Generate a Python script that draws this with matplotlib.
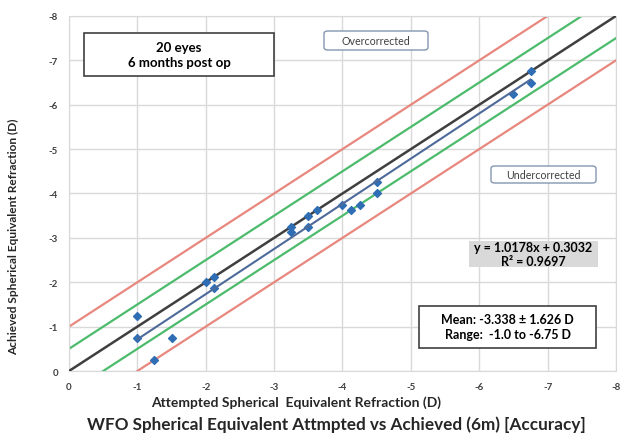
import numpy as np
import matplotlib
matplotlib.use('Agg')
import matplotlib.pyplot as plt
from matplotlib.patches import Rectangle, FancyBboxPatch

plt.rcParams['font.family'] = ['Lato', 'DejaVu Sans']
plt.rcParams['axes.unicode_minus'] = False

# 데이터 (attempted vs achieved, D)
attempted = [-1.0, -1.0, -1.5, -1.25, -2.0, -2.125, -2.125,
             -3.25, -3.25, -3.5, -3.625, -3.5, -4.0, -4.125, -4.25, -4.5, -4.5,
             -6.75, -6.75, -6.5]
achieved = [-1.25, -0.75, -0.75, -0.25, -2.0, -2.125, -1.875,
            -3.25, -3.125, -3.5, -3.625, -3.25, -3.75, -3.625, -3.75, -4.25, -4.0,
            -6.75, -6.5, -6.25]
ticks = [0, -1, -2, -3, -4, -5, -6, -7, -8]
slope, intercept = 1.0178, 0.3032
offsets_green = [0.5, -0.5]
offsets_red = [1.0, -1.0]

W, H = 620, 435
fig = plt.figure(figsize=(6.2, 4.35), dpi=100)
ax = fig.add_axes([0.1113, 0.1448, 0.8822, 0.8162])

ax.set_xlim(0, -8)
ax.set_ylim(0, -8)
ax.set_xticks(ticks)
ax.set_yticks(ticks)
ax.set_xticklabels([str(t) for t in ticks])
ax.set_yticklabels([str(t) for t in ticks])
ax.tick_params(length=0, labelsize=7, colors='#404040', pad=8)
for lab in ax.get_xticklabels() + ax.get_yticklabels():
    lab.set_fontweight('bold')
ax.grid(True, color='#d9d9d9', lw=1)
for s in ax.spines.values():
    s.set_color('#d9d9d9')

# 기준선
xx = np.array([0, -8])
ax.plot(xx, xx, color='#3f3f3f', lw=1.8, zorder=3)
for d in offsets_green:
    ax.plot(xx, xx - d, color='#4cbb6c', lw=1.6, zorder=2)
for d in offsets_red:
    ax.plot(xx, xx - d, color='#e8877d', lw=1.6, zorder=2)

# 산점도 + 추세선
ax.scatter(attempted, achieved, marker='D', s=16, color='#2f6eb5', zorder=4)
tx = np.array([max(attempted), min(attempted)])
ax.plot(tx, slope * tx + intercept, color='#4d6a9a', lw=1.5, zorder=5)


# 픽셀 좌표로 박스 그리기
def box(x0, y0, x1, y1, text, fc='white', ec='#404040', lw=1.2, rounded=False, **kw):
    fx, fy = x0 / W, 1 - y1 / H
    fw, fh = (x1 - x0) / W, (y1 - y0) / H
    if rounded:
        p = FancyBboxPatch((fx, fy), fw, fh, boxstyle='round,pad=0,rounding_size=0.006',
                           transform=fig.transFigure, fc=fc, ec=ec, lw=lw, zorder=10)
    else:
        p = Rectangle((fx, fy), fw, fh, transform=fig.transFigure, fc=fc, ec=ec, lw=lw, zorder=10)
    fig.patches.append(p)
    fig.text((x0 + x1) / 2 / W, 1 - (y0 + y1) / 2 / H, text, ha='center', va='center',
             zorder=11, **kw)


box(84, 34, 274, 77, '20 eyes\n6 months post op', fontsize=9.5, fontweight='bold', linespacing=1.35)
box(324, 32, 428, 51, 'Overcorrected', ec='#8496b0', lw=1, rounded=True, fontsize=7.7, color='#404040')
box(491, 167, 596, 184, 'Undercorrected', ec='#8496b0', lw=1, rounded=True, fontsize=7.7, color='#404040')
box(469, 242, 598, 268, f'y = {slope}x + {intercept}\nR² = 0.9697', fc='#d9d9d9', ec='none', lw=0,
    fontsize=9, fontweight='bold', linespacing=1.15)
box(419, 307, 596, 349, 'Mean: -3.338 ± 1.626 D\nRange:  -1.0 to -6.75 D',
    fontsize=9, fontweight='bold', linespacing=1.3)

# 축 제목
fig.text(296 / W, 1 - 403 / H, 'Attempted Spherical  Equivalent Refraction (D)', ha='center', va='center',
         fontsize=10, fontweight='bold', color='#262626')
fig.text(14 / W, 1 - 237 / H, 'Achieved Spherical Equivalent Refraction (D)', ha='center', va='center',
         rotation=90, fontsize=8.6, fontweight='bold', color='#262626')
fig.text(336 / W, 1 - 425 / H, 'WFO Spherical Equivalent Attmpted vs Achieved (6m) [Accuracy]',
         ha='center', va='center', fontsize=12.3, fontweight='bold', color='#262626')

fig.savefig('out.png', dpi=100)
